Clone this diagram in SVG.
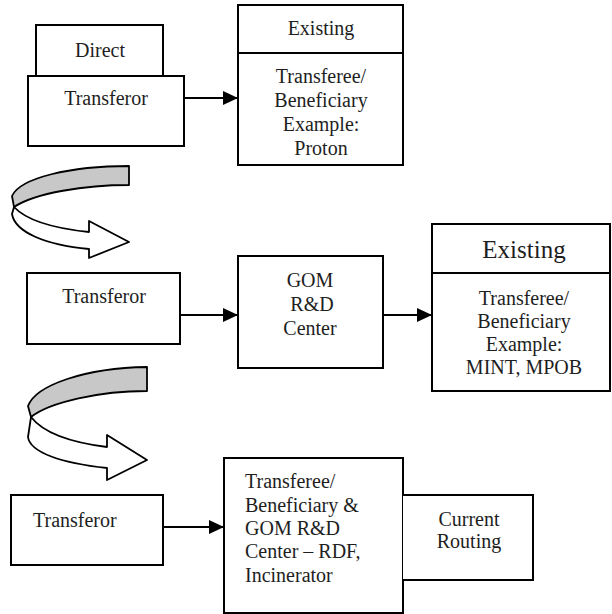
<svg xmlns="http://www.w3.org/2000/svg" width="612" height="614" viewBox="0 0 612 614" font-family="'Liberation Serif', 'DejaVu Serif', serif">
<style>
.box{fill:#fff;stroke:#000;stroke-width:2}
.t{font-family:'Liberation Serif','DejaVu Serif',serif;font-size:20px;fill:#1e1e1e}
.c{text-anchor:middle}
.big{font-size:25px}
.conn{stroke:#000;stroke-width:2;fill:none}
.rib{stroke:#000;stroke-width:1.8;stroke-linejoin:round}
</style>
<defs>
<marker id="ah" markerWidth="15" markerHeight="14" refX="15" refY="7" orient="auto" markerUnits="userSpaceOnUse">
<path d="M0,0 L15,7 L0,14 Z" fill="#000"/>
</marker>
</defs>
<rect width="612" height="614" fill="#fff"/>

<g id="direct">
<rect class="box" x="36" y="25" width="127" height="51"/>
<text class="t c" x="100" y="57">Direct</text>
</g>
<g id="transferor1">
<rect class="box" x="28" y="76" width="156" height="70"/>
<text class="t c" x="106" y="105">Transferor</text>
</g>
<g id="existing1">
<rect class="box" x="238" y="5" width="165" height="160"/>
<line class="conn" x1="238" y1="53" x2="403" y2="53"/>
<text class="t c" x="321" y="35">Existing</text>
<text class="t c" x="321" y="83">Transferee/</text>
<text class="t c" x="321" y="107">Beneficiary</text>
<text class="t c" x="321" y="131">Example:</text>
<text class="t c" x="321" y="155">Proton</text>
</g>

<g id="curve1">
<path class="rib" fill="#c8c8c8" d="M129,166 C70,166 20,178 12,196 L14,207 C35,193 85,185 129,185 Z"/>
<path class="rib" fill="#fff" d="M14,207 C28,222 60,229 89,232 L89,221 L129,242 L89,258 L89,249 C45,245 15,232 12,214 Z"/>
</g>

<g id="transferor2">
<rect class="box" x="27" y="273" width="153" height="71"/>
<text class="t c" x="104" y="303">Transferor</text>
</g>
<g id="gom">
<rect class="box" x="238" y="256" width="145" height="112"/>
<text class="t c" x="310" y="287">GOM</text>
<text class="t c" x="312" y="311">R&amp;D</text>
<text class="t c" x="310" y="335">Center</text>
</g>
<g id="existing2">
<rect class="box" x="432" y="224" width="178" height="167"/>
<line class="conn" x1="432" y1="273" x2="610" y2="273"/>
<text class="t c big" x="524" y="258">Existing</text>
<text class="t c" x="524" y="305">Transferee/</text>
<text class="t c" x="524" y="328">Beneficiary</text>
<text class="t c" x="524" y="351">Example:</text>
<text class="t c" x="524" y="374">MINT, MPOB</text>
</g>

<g id="curve2">
<path class="rib" fill="#c8c8c8" d="M147,367 C85,368 36,385 28,406 L31,417 C50,402 100,391 147,391 Z"/>
<path class="rib" fill="#fff" d="M31,417 C45,435 75,443 107,447 L107,435 L147,460 L107,480 L107,468 C60,463 30,452 28,437 Z"/>
</g>

<g id="transferor3">
<rect class="box" x="11" y="495" width="152" height="70"/>
<text class="t" x="33" y="527">Transferor</text>
</g>
<g id="transferee3">
<rect class="box" x="224" y="458" width="179" height="155"/>
<text class="t" x="245" y="488">Transferee/</text>
<text class="t" x="245" y="512">Beneficiary &amp;</text>
<text class="t" x="245" y="535">GOM R&amp;D</text>
<text class="t" x="245" y="558">Center – RDF,</text>
<text class="t" x="245" y="582">Incinerator</text>
</g>
<g id="routing">
<path class="box" d="M403,495 L533,495 L533,580 L403,580"/>
<text class="t c" x="469" y="526">Current</text>
<text class="t c" x="469" y="548">Routing</text>
</g>

<g id="connectors">
<line class="conn" x1="184" y1="98" x2="238" y2="98" marker-end="url(#ah)"/>
<line class="conn" x1="180" y1="315" x2="238" y2="315" marker-end="url(#ah)"/>
<line class="conn" x1="383" y1="315" x2="432" y2="315" marker-end="url(#ah)"/>
<line class="conn" x1="163" y1="527" x2="224" y2="527" marker-end="url(#ah)"/>
</g>
</svg>
